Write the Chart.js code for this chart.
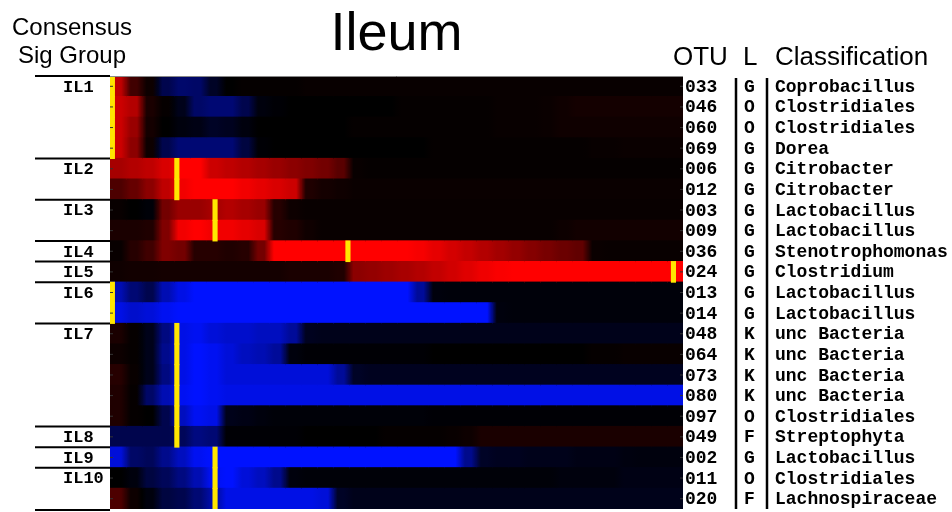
<!DOCTYPE html>
<html>
<head>
<meta charset="utf-8">
<script src="https://cdn.jsdelivr.net/npm/chart.js@4.4.1/dist/chart.umd.min.js"></script>
<style>
  body { margin: 0; background: #fff; }
  #wrap { width: 952px; height: 512px; }
</style>
</head>
<body>
<div id="wrap"><canvas id="heat" width="952" height="512"></canvas></div>
<script>
// rows, top to bottom
const rowOtu = ["033", "046", "060", "069", "006", "012", "003", "009", "036", "024", "013",
  "014", "048", "064", "073", "080", "097", "049", "002", "011", "020"];
const rowLevel = ["G", "O", "O", "G", "G", "G", "G", "G", "G", "G", "G",
  "G", "K", "K", "K", "K", "O", "F", "G", "O", "F"];
const rowClass = ["Coprobacillus", "Clostridiales", "Clostridiales", "Dorea", "Citrobacter",
  "Citrobacter", "Lactobacillus", "Lactobacillus", "Stenotrophomonas", "Clostridium",
  "Lactobacillus", "Lactobacillus", "unc Bacteria", "unc Bacteria", "unc Bacteria",
  "unc Bacteria", "Clostridiales", "Streptophyta", "Lactobacillus", "Clostridiales",
  "Lachnospiraceae"];

// consensus sig groups: name + first row
const groupNames = ["IL1", "IL2", "IL3", "IL4", "IL5", "IL6", "IL7", "IL8", "IL9", "IL10"];
const groupStart = [0, 4, 6, 8, 9, 10, 12, 17, 18, 19];

// yellow marker position per row (column units)
const markCol = [0.15, 0.15, 0.15, 0.15, 4.2, 4.2, 6.6, 6.6, 14.95, 35.4, 0.15,
  0.15, 4.2, 4.2, 4.2, 4.2, 4.2, 4.2, 6.6, 6.6, 6.6];

// signed values, -1 = blue, +1 = red, 36 columns per row
const cellValues = [
  [0.75,0.25,0.05,-0.3,-0.42,-0.4,-0.15,0,0.02,0.02,0.02,0.02,0.03,0.03,0.03,0.03,0.03,0.03,0.03,0.03,0.03,0.03,0.03,0.03,0.03,0.03,0.03,0.03,0.03,0.03,0.03,0.03,0.03,0.03,0.03,0.03],
  [0.8,0.7,0.1,0.02,-0.1,-0.4,-0.45,-0.45,-0.3,-0.05,-0.02,0,0,0,0,0,0,0,0.02,0.02,0.02,0.02,0.02,0.02,0.03,0.03,0.03,0.04,0.06,0.08,0.08,0.08,0.08,0.08,0.08,0.08],
  [0.8,0.6,0.08,0,-0.05,-0.08,-0.15,-0.12,-0.05,0,0,0,0,0,0,0.02,0.02,0.02,0.02,0.02,0.02,0.02,0.02,0.02,0.03,0.03,0.03,0.04,0.06,0.06,0.06,0.06,0.06,0.06,0.06,0.06],
  [0.8,0.55,0.05,-0.3,-0.45,-0.45,-0.45,-0.45,-0.25,-0.02,0,0,0,0,0,0,0,0,0,0,0.02,0.02,0.02,0.02,0.02,0.02,0.02,0.02,0.02,0.02,0.03,0.03,0.04,0.04,0.04,0.04],
  [0.65,0.7,0.75,0.85,1,1,0.8,0.75,0.7,0.65,0.6,0.55,0.5,0.45,0.35,0.03,0.02,0.02,0.02,0.02,0.02,0.02,0.02,0.02,0.02,0.02,0.02,0.02,0.02,0.02,0.02,0.02,0.02,0.02,0.02,0.02],
  [0.3,0.4,0.55,0.75,0.95,1,1,1,0.95,0.9,0.85,0.8,0.12,0.08,0.06,0.04,0.04,0.04,0.04,0.04,0.04,0.04,0.04,0.04,0.04,0.04,0.04,0.04,0.04,0.04,0.04,0.04,0.04,0.04,0.04,0.04],
  [0.03,0,-0.03,0.45,0.6,0.6,0.65,0.7,0.65,0.6,0.15,0.05,0.03,0.03,0.03,0.03,0.03,0.03,0.03,0.03,0.03,0.03,0.03,0.03,0.03,0.03,0.03,0.03,0.03,0.03,0.03,0.03,0.03,0.03,0.03,0.03],
  [0.1,0.1,0.12,0.5,0.95,1,0.95,0.95,0.9,0.85,0.15,0.12,0.06,0.03,0.03,0.03,0.03,0.03,0.03,0.03,0.03,0.03,0.03,0.03,0.03,0.03,0.03,0.03,0.05,0.07,0.07,0.07,0.07,0.07,0.07,0.07],
  [0.03,0.15,0.25,0.5,0.45,0.15,0.15,0.12,0.15,0.45,1,1,1,1,1,1,1,1,1,0.97,0.9,0.83,0.77,0.7,0.64,0.58,0.52,0.47,0.42,0.38,0.04,0.03,0.03,0.03,0.03,0.03],
  [0.06,0.07,0.07,0.08,0.08,0.08,0.08,0.08,0.08,0.08,0.08,0.1,0.1,0.1,0.12,0.55,0.58,0.62,0.66,0.7,0.76,0.82,0.88,0.94,0.98,1,1,1,1,1,1,1,1,1,1,1],
  [-0.7,-0.45,-0.3,-0.7,-0.9,-1,-1,-1,-1,-1,-1,-1,-1,-1,-1,-1,-1,-1,-1,-0.6,-0.05,-0.04,-0.04,-0.04,-0.04,-0.04,-0.04,-0.04,-0.04,-0.04,-0.04,-0.04,-0.04,-0.04,-0.04,-0.04],
  [-0.9,-0.8,-0.85,-0.95,-1,-1,-1,-1,-1,-1,-1,-1,-1,-1,-1,-1,-1,-1,-1,-1,-1,-1,-1,-1,-0.05,-0.04,-0.04,-0.04,-0.04,-0.04,-0.04,-0.04,-0.04,-0.04,-0.04,-0.04],
  [0.1,0.02,-0.1,-0.5,-0.9,-0.95,-0.85,-0.8,-0.8,-0.75,-0.75,-0.6,-0.12,-0.1,-0.1,-0.1,-0.1,-0.1,-0.1,-0.1,-0.1,-0.1,-0.1,-0.1,-0.1,-0.1,-0.1,-0.1,-0.1,-0.1,-0.1,-0.1,-0.1,-0.1,-0.1,-0.1],
  [0.05,0.02,-0.1,-0.55,-0.9,-1,-0.95,-0.85,-0.75,-0.7,-0.6,-0.05,-0.02,-0.02,-0.02,-0.02,-0.02,-0.02,-0.02,-0.02,0,0,0,0,0,0,0,0,0,0,0.02,0.02,0.03,0.03,0.03,0.03],
  [0.15,0.03,-0.1,-0.5,-0.9,-1,-0.95,-0.85,-0.85,-0.85,-0.85,-0.85,-0.85,-0.85,-0.6,-0.15,-0.12,-0.12,-0.12,-0.12,-0.12,-0.12,-0.12,-0.12,-0.12,-0.12,-0.12,-0.12,-0.12,-0.12,-0.12,-0.12,-0.12,-0.12,-0.12,-0.12],
  [0.12,0.02,-0.4,-0.7,-0.95,-1,-0.95,-0.9,-0.9,-0.9,-0.9,-0.9,-0.9,-0.9,-0.9,-0.9,-0.9,-0.9,-0.9,-0.9,-0.9,-0.9,-0.9,-0.9,-0.9,-0.9,-0.9,-0.9,-0.9,-0.9,-0.9,-0.9,-0.9,-0.9,-0.9,-0.9],
  [0.12,0.02,0,-0.3,-0.75,-0.95,-0.9,-0.1,-0.08,-0.05,-0.03,-0.03,-0.03,-0.03,-0.03,-0.03,-0.03,-0.03,-0.03,-0.03,-0.02,-0.02,-0.02,-0.02,-0.02,-0.02,-0.02,-0.02,-0.02,-0.02,-0.02,-0.02,-0.02,-0.02,-0.02,-0.02],
  [-0.3,-0.3,-0.3,-0.3,-0.35,-0.5,-0.45,-0.02,-0.02,-0.02,-0.02,-0.02,0,0,0,0,0,0.02,0.02,0.02,0.02,0.03,0.05,0.1,0.1,0.1,0.1,0.1,0.1,0.1,0.1,0.1,0.1,0.1,0.1,0.1],
  [-0.85,-0.4,-0.35,-0.55,-0.75,-0.95,-1,-1,-1,-1,-1,-1,-1,-1,-1,-1,-1,-1,-1,-1,-1,-1,-0.55,-0.15,-0.12,-0.12,-0.1,-0.1,-0.1,-0.08,-0.08,-0.08,-0.06,-0.05,-0.05,-0.05],
  [0,-0.05,-0.25,-0.35,-0.5,-0.7,-0.95,-1,-0.85,-0.75,-0.55,-0.05,-0.03,-0.03,-0.03,-0.03,-0.03,-0.03,-0.03,-0.03,-0.03,-0.03,-0.03,-0.03,-0.03,-0.03,-0.03,-0.03,-0.05,-0.05,-0.05,-0.05,-0.08,-0.08,-0.08,-0.08],
  [0.3,0.05,-0.05,-0.25,-0.3,-0.45,-0.65,-0.9,-0.9,-0.9,-0.9,-0.9,-0.9,-0.85,-0.15,-0.1,-0.1,-0.1,-0.1,-0.1,-0.1,-0.1,-0.1,-0.1,-0.1,-0.1,-0.1,-0.1,-0.1,-0.1,-0.1,-0.1,-0.1,-0.1,-0.1,-0.1]
];

const nCols = cellValues[0].length;

function valueColor(v) {
  v = Math.max(-1, Math.min(1, v));
  if (v >= 0) return "rgb(" + Math.round(255 * v) + ",0,0)";
  const a = -v;
  return "rgb(0," + Math.round(18 * a) + "," + Math.round(255 * a) + ")";
}

const datasets = [];
// yellow markers first so they are drawn on top
datasets.push({
  data: markCol.map((m) => [m - 0.13, m + 0.13]),
  grouped: false,
  barPercentage: 1,
  categoryPercentage: 1,
  borderWidth: 0,
  inflateAmount: 0.5,
  backgroundColor: "#ffe600",
});
// one dataset per column, each cell is a floating bar [j, j+1]
for (let j = 0; j < nCols; j++) {
  datasets.push({
    data: rowOtu.map(() => [j, j + 1]),
    grouped: false,
    barPercentage: 1,
    categoryPercentage: 1,
    borderWidth: 0,
    inflateAmount: 0.6,
    backgroundColor: (ctx) => {
      if (ctx.type !== "data") return "#000";
      const row = cellValues[ctx.dataIndex];
      const xs = ctx.chart.scales.x;
      const x0 = xs ? xs.getPixelForValue(j) : NaN;
      const x1 = xs ? xs.getPixelForValue(j + 1) : NaN;
      if (!isFinite(x0) || !isFinite(x1) || x0 === x1) return valueColor(row[j]);
      const left = (row[Math.max(j - 1, 0)] + row[j]) / 2;
      const right = (row[Math.min(j + 1, nCols - 1)] + row[j]) / 2;
      const g = ctx.chart.ctx.createLinearGradient(x0, 0, x1, 0);
      g.addColorStop(0, valueColor(left));
      g.addColorStop(0.3, valueColor(row[j]));
      g.addColorStop(0.7, valueColor(row[j]));
      g.addColorStop(1, valueColor(right));
      return g;
    },
  });
}

const overlay = {
  id: "overlay",
  afterDraw(chart) {
    const { ctx, chartArea: a } = chart;
    const y = chart.scales.y;
    const rowH = (a.bottom - a.top) / rowOtu.length;
    const line = (x0, y0, x1, y1, w, c) => {
      ctx.strokeStyle = c || "#000";
      ctx.lineWidth = w;
      ctx.beginPath();
      ctx.moveTo(x0, y0);
      ctx.lineTo(x1, y1);
      ctx.stroke();
    };
    ctx.save();
    ctx.fillStyle = "#000";

    // headings
    ctx.textAlign = "center";
    ctx.textBaseline = "alphabetic";
    ctx.font = '54px "Liberation Sans", Arial, sans-serif';
    ctx.fillText("Ileum", (a.left + a.right) / 2, 50);
    ctx.font = '24px "Liberation Sans", Arial, sans-serif';
    ctx.fillText("Consensus", 72, 35);
    ctx.fillText("Sig Group", 72, 63);
    ctx.textAlign = "left";
    ctx.font = '26px "Liberation Sans", Arial, sans-serif';
    ctx.fillText("OTU", 673, 65);
    ctx.fillText("L", 743, 65);
    ctx.fillText("Classification", 775, 65);

    // top edge of the map
    line(a.left, a.top + 0.5, a.right, a.top + 0.5, 1, "#888");

    // group brackets + names
    ctx.textBaseline = "middle";
    ctx.font = 'bold 17px "Courier New", "Liberation Mono", monospace';
    groupStart.forEach((s, g) => {
      const yc = y.getPixelForValue(s);
      const top = yc - rowH / 2;
      line(35, top, a.left, top, 2);
      ctx.fillText(groupNames[g], 63, yc + 1);
    });
    line(35, a.bottom + 1, a.left, a.bottom + 1, 2);

    // small ticks at each row
    rowOtu.forEach((o, i) => {
      const yc = y.getPixelForValue(i);
      line(a.left, yc, a.left + 3, yc, 1, "#333");
      line(a.right - 3, yc, a.right, yc, 1, "#333");
    });

    // OTU / level / classification
    ctx.font = 'bold 18px "Courier New", "Liberation Mono", monospace';
    rowOtu.forEach((o, i) => {
      const yc = y.getPixelForValue(i) + 1;
      ctx.fillText(o, 685, yc);
      ctx.fillText(rowLevel[i], 744, yc);
      ctx.fillText(rowClass[i], 775, yc);
    });
    line(736, a.top + 2, 736, a.bottom, 2.5);
    line(767, a.top + 2, 767, a.bottom, 2.5);
    ctx.restore();
  },
};

new Chart(document.getElementById("heat"), {
  type: "bar",
  data: { labels: rowOtu, datasets: datasets },
  options: {
    indexAxis: "y",
    responsive: false,
    animation: false,
    layout: { padding: { left: 110, right: 269, top: 76, bottom: 3 } },
    plugins: { legend: { display: false }, tooltip: { enabled: false }, title: { display: false } },
    scales: {
      x: { type: "linear", min: 0, max: nCols, display: false },
      y: { type: "category", display: false },
    },
  },
  plugins: [overlay],
});
</script>
</body>
</html>
